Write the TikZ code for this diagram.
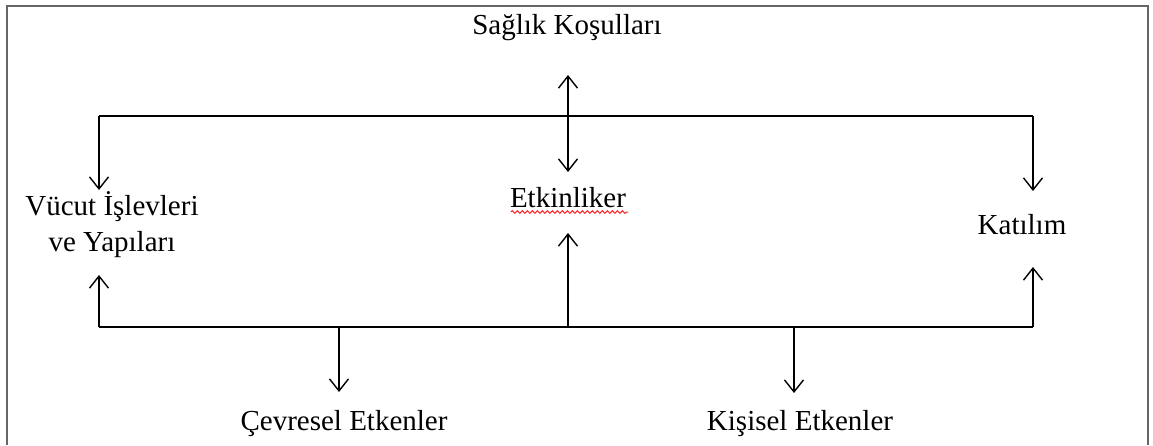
\documentclass[tikz,border=0pt]{standalone}
\usepackage{fontspec}
\setmainfont{Liberation Serif}
\usetikzlibrary{arrows.meta,decorations.pathmorphing}
\begin{document}
\begin{tikzpicture}[x=1pt,y=-1pt,
  lbl/.style={inner sep=0pt,anchor=base,font=\fontsize{29}{36}\selectfont},
  conn/.style={line width=1.4pt,black},
  tip/.style={Straight Barb[length=12pt,width=19pt,line width=1.4pt]},
  arr/.style={conn,-{Straight Barb[length=12pt,width=19pt,line width=1.4pt]}},
  dbl/.style={conn,{Straight Barb[length=12pt,width=19pt,line width=1.4pt]}-{Straight Barb[length=12pt,width=19pt,line width=1.4pt]}},
  frame/.style={line width=2pt,gray!80!black}]
\useasboundingbox (0,0) rectangle (1153,445);
\draw[frame] (7,445) -- (7,6) -- (1148,6) -- (1148,445);
% labels
\node[lbl] (saglik) at (567,34) {Sağlık Koşulları};
\node[lbl] (etk) at (568,207) {Etkinliker};
\node[lbl,align=center] (vucut) at (112,251) {Vücut İşlevleri\\ve Yapıları};
\node[lbl] (katilim) at (1022,234) {Katılım};
\node[lbl] (cevre) at (344,430) {Çevresel Etkenler};
\node[lbl] (kisi) at (800,430) {Kişisel Etkenler};
% spell-check underline
\draw[red!85!white,line width=1pt,decorate,decoration={snake,amplitude=1.4pt,segment length=5pt}]
  ([xshift=1pt,yshift=-5pt]etk.base west) -- ([xshift=2pt,yshift=-5pt]etk.base east);
% junction coordinates
\coordinate (tl) at (99,116);
\coordinate (tm) at (568,116);
\coordinate (tr) at (1033,116);
\coordinate (bl) at (99,327);
\coordinate (bc) at (339,327);
\coordinate (bm) at (568,327);
\coordinate (bk) at (794,327);
\coordinate (br) at (1033,327);
% arrow ends
\coordinate (sagA) at (568,75);
\coordinate (etkA) at (568,172);
\coordinate (vucA) at (99,190);
\coordinate (katA) at (1033,191);
\coordinate (vucB) at (99,275);
\coordinate (etkB) at (568,233);
\coordinate (katB) at (1033,267);
\coordinate (cevA) at (339,392);
\coordinate (kisA) at (794,393);
% top network
\draw[conn] (tl) -- (tr);
\draw[arr] (tl) -- (vucA);
\draw[arr] (tr) -- (katA);
\draw[dbl] (sagA) -- (etkA);
% bottom network
\draw[conn] (bl) -- (br);
\draw[arr] (bl) -- (vucB);
\draw[arr] (bm) -- (etkB);
\draw[arr] (br) -- (katB);
\draw[arr] (bc) -- (cevA);
\draw[arr] (bk) -- (kisA);
\end{tikzpicture}
\end{document}
